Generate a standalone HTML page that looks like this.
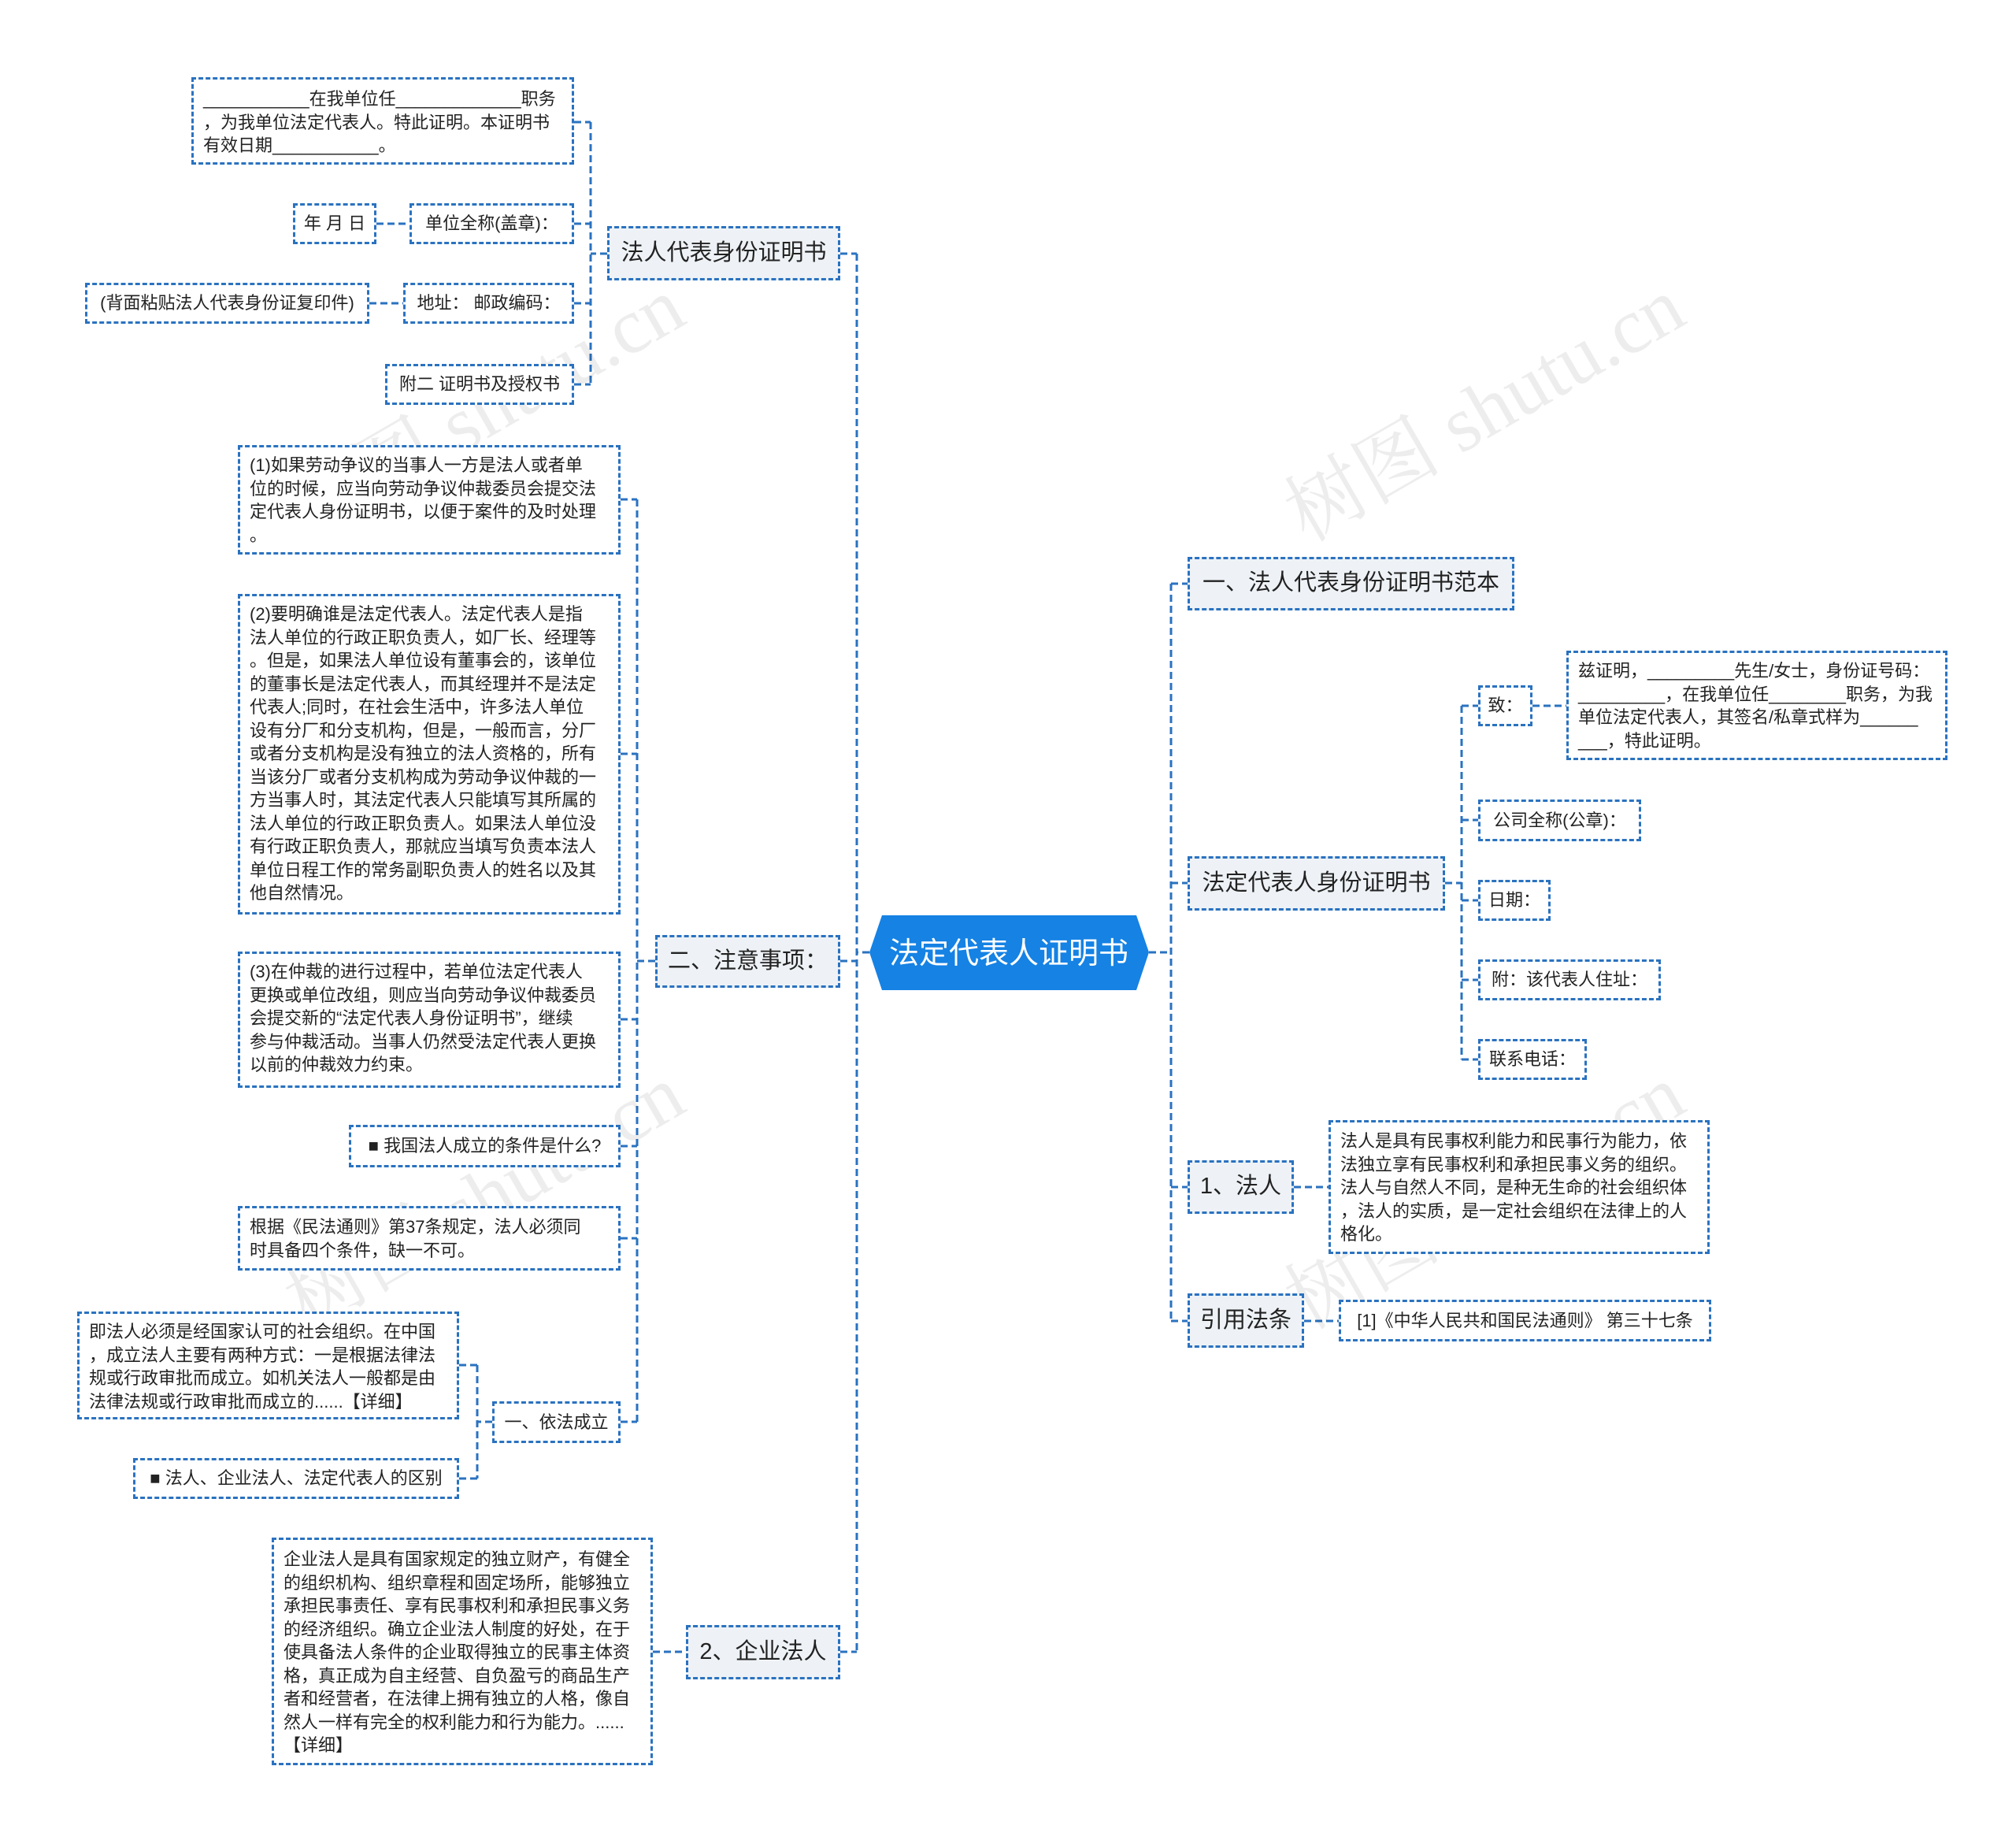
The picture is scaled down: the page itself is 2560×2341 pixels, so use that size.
<!DOCTYPE html>
<html><head><meta charset="utf-8"><style>
html,body{margin:0;padding:0;background:#fff;}
body{width:2560px;height:2341px;position:relative;overflow:hidden;font-family:"Liberation Sans","Noto Sans CJK SC",sans-serif;color:#222;}
.n{position:absolute;box-sizing:border-box;border:3px dashed #2a72c0;background:#fff;font-size:22px;line-height:29.5px;padding:6px 12px;white-space:nowrap;}
.l1{background:#eef2f6;font-size:29px;display:flex;align-items:center;justify-content:center;padding:0;}
.c{display:flex;align-items:center;justify-content:center;padding:0;}
.wm{position:absolute;font-size:100px;color:rgba(0,0,0,0.07);transform:rotate(-30deg);white-space:nowrap;font-family:"Liberation Serif","Noto Serif CJK SC",serif;}
</style></head><body>
<svg width="2560" height="2341" style="position:absolute;left:0;top:0">
<g stroke="#2a72c0" stroke-width="3" stroke-dasharray="9,5" fill="none">
<!-- root left -->
<path d="M1104 1209H1088M1088 322V2097M1067 322H1088M1067 1220H1088M1067 2097H1088"/>
<!-- 法人代表身份证明书 children -->
<path d="M771 322H750M750 155V488M729 155H750M729 284H750M729 385H750M729 488H750M478 284H520M469 385H512"/>
<!-- 注意事项 -->
<path d="M832 1220H809M809 634V1805M788 634H809M788 957H809M788 1294H809M788 1455H809M788 1572H809M788 1805H809"/>
<path d="M625 1805H606M606 1733V1877M583 1733H606M583 1877H606"/>
<path d="M829 2097H871"/>
<!-- right -->
<path d="M1459 1209H1487M1487 741V1677M1487 741H1508M1487 1121H1508M1487 1507H1508M1487 1677H1508"/>
<path d="M1835 1121H1856M1856 896V1345M1856 896H1877M1856 1041H1877M1856 1143H1877M1856 1244H1877M1856 1345H1877"/>
<path d="M1946 896H1989M1643 1507H1687M1656 1677H1700"/>
</g>
<polygon points="1104,1209 1120,1162 1443,1162 1459,1209 1443,1257 1120,1257" fill="#1582e4"/>
<text x="1281" y="1223" text-anchor="middle" font-size="38" fill="#fff" font-family="Liberation Sans, Noto Sans CJK SC, sans-serif">法定代表人证明书</text>
</svg>

<div class="wm" style="left:330px;top:440px">树图 shutu.cn</div>
<div class="wm" style="left:1600px;top:440px">树图 shutu.cn</div>
<div class="wm" style="left:330px;top:1440px">树图 shutu.cn</div>
<div class="wm" style="left:1600px;top:1440px">树图 shutu.cn</div>

<!-- left top -->
<div class="n l1" style="left:771px;top:287px;width:296px;height:69px">法人代表身份证明书</div>
<div class="n" style="left:243px;top:98px;width:486px;height:111px;padding-top:10px">___________在我单位任_____________职务<br>，为我单位法定代表人。特此证明。本证明书<br>有效日期___________。</div>
<div class="n c" style="left:372px;top:258px;width:106px;height:52px">年 月 日</div>
<div class="n c" style="left:520px;top:258px;width:209px;height:52px">单位全称(盖章)：</div>
<div class="n c" style="left:108px;top:359px;width:361px;height:52px">(背面粘贴法人代表身份证复印件)</div>
<div class="n c" style="left:512px;top:359px;width:217px;height:52px">地址：&nbsp;邮政编码：</div>
<div class="n c" style="left:489px;top:462px;width:240px;height:52px">附二 证明书及授权书</div>

<!-- 注意事项 -->
<div class="n l1" style="left:832px;top:1187px;width:235px;height:67px">二、注意事项：</div>
<div class="n" style="left:302px;top:565px;width:486px;height:139px;padding-top:8px">(1)如果劳动争议的当事人一方是法人或者单<br>位的时候，应当向劳动争议仲裁委员会提交法<br>定代表人身份证明书，以便于案件的及时处理<br>。</div>
<div class="n" style="left:302px;top:754px;width:486px;height:407px;padding-top:8px">(2)要明确谁是法定代表人。法定代表人是指<br>法人单位的行政正职负责人，如厂长、经理等<br>。但是，如果法人单位设有董事会的，该单位<br>的董事长是法定代表人，而其经理并不是法定<br>代表人;同时，在社会生活中，许多法人单位<br>设有分厂和分支机构，但是，一般而言，分厂<br>或者分支机构是没有独立的法人资格的，所有<br>当该分厂或者分支机构成为劳动争议仲裁的一<br>方当事人时，其法定代表人只能填写其所属的<br>法人单位的行政正职负责人。如果法人单位没<br>有行政正职负责人，那就应当填写负责本法人<br>单位日程工作的常务副职负责人的姓名以及其<br>他自然情况。</div>
<div class="n" style="left:302px;top:1208px;width:486px;height:173px;padding-top:8px">(3)在仲裁的进行过程中，若单位法定代表人<br>更换或单位改组，则应当向劳动争议仲裁委员<br>会提交新的“法定代表人身份证明书”，继续<br>参与仲裁活动。当事人仍然受法定代表人更换<br>以前的仲裁效力约束。</div>
<div class="n c" style="left:443px;top:1428px;width:345px;height:54px">■ 我国法人成立的条件是什么?</div>
<div class="n" style="left:302px;top:1531px;width:486px;height:82px;padding-top:9px">根据《民法通则》第37条规定，法人必须同<br>时具备四个条件，缺一不可。</div>
<div class="n c" style="left:625px;top:1779px;width:163px;height:53px">一、依法成立</div>
<div class="n" style="left:98px;top:1665px;width:485px;height:137px;padding-top:8px">即法人必须是经国家认可的社会组织。在中国<br>，成立法人主要有两种方式：一是根据法律法<br>规或行政审批而成立。如机关法人一般都是由<br>法律法规或行政审批而成立的......【详细】</div>
<div class="n c" style="left:169px;top:1851px;width:414px;height:52px">■ 法人、企业法人、法定代表人的区别</div>
<div class="n l1" style="left:871px;top:2063px;width:196px;height:69px">2、企业法人</div>
<div class="n" style="left:345px;top:1952px;width:484px;height:289px;padding-top:10px">企业法人是具有国家规定的独立财产，有健全<br>的组织机构、组织章程和固定场所，能够独立<br>承担民事责任、享有民事权利和承担民事义务<br>的经济组织。确立企业法人制度的好处，在于<br>使具备法人条件的企业取得独立的民事主体资<br>格，真正成为自主经营、自负盈亏的商品生产<br>者和经营者，在法律上拥有独立的人格，像自<br>然人一样有完全的权利能力和行为能力。......<br>【详细】</div>

<!-- right -->
<div class="n l1" style="left:1508px;top:707px;width:415px;height:68px">一、法人代表身份证明书范本</div>
<div class="n l1" style="left:1508px;top:1087px;width:327px;height:69px">法定代表人身份证明书</div>
<div class="n c" style="left:1877px;top:870px;width:69px;height:52px">致：</div>
<div class="n" style="left:1989px;top:826px;width:484px;height:139px;padding-top:8px">兹证明，_________先生/女士，身份证号码：<br>_________，在我单位任________职务，为我<br>单位法定代表人，其签名/私章式样为______<br>___，特此证明。</div>
<div class="n c" style="left:1877px;top:1015px;width:207px;height:53px">公司全称(公章)：</div>
<div class="n c" style="left:1877px;top:1117px;width:92px;height:52px">日期：</div>
<div class="n c" style="left:1877px;top:1218px;width:232px;height:52px">附：该代表人住址：</div>
<div class="n c" style="left:1877px;top:1319px;width:138px;height:52px">联系电话：</div>
<div class="n l1" style="left:1508px;top:1473px;width:135px;height:68px">1、法人</div>
<div class="n" style="left:1687px;top:1422px;width:484px;height:170px;padding-top:9px">法人是具有民事权利能力和民事行为能力，依<br>法独立享有民事权利和承担民事义务的组织。<br>法人与自然人不同，是种无生命的社会组织体<br>，法人的实质，是一定社会组织在法律上的人<br>格化。</div>
<div class="n l1" style="left:1508px;top:1642px;width:148px;height:69px">引用法条</div>
<div class="n c" style="left:1700px;top:1650px;width:473px;height:53px">[1]《中华人民共和国民法通则》 第三十七条</div>
</body></html>
